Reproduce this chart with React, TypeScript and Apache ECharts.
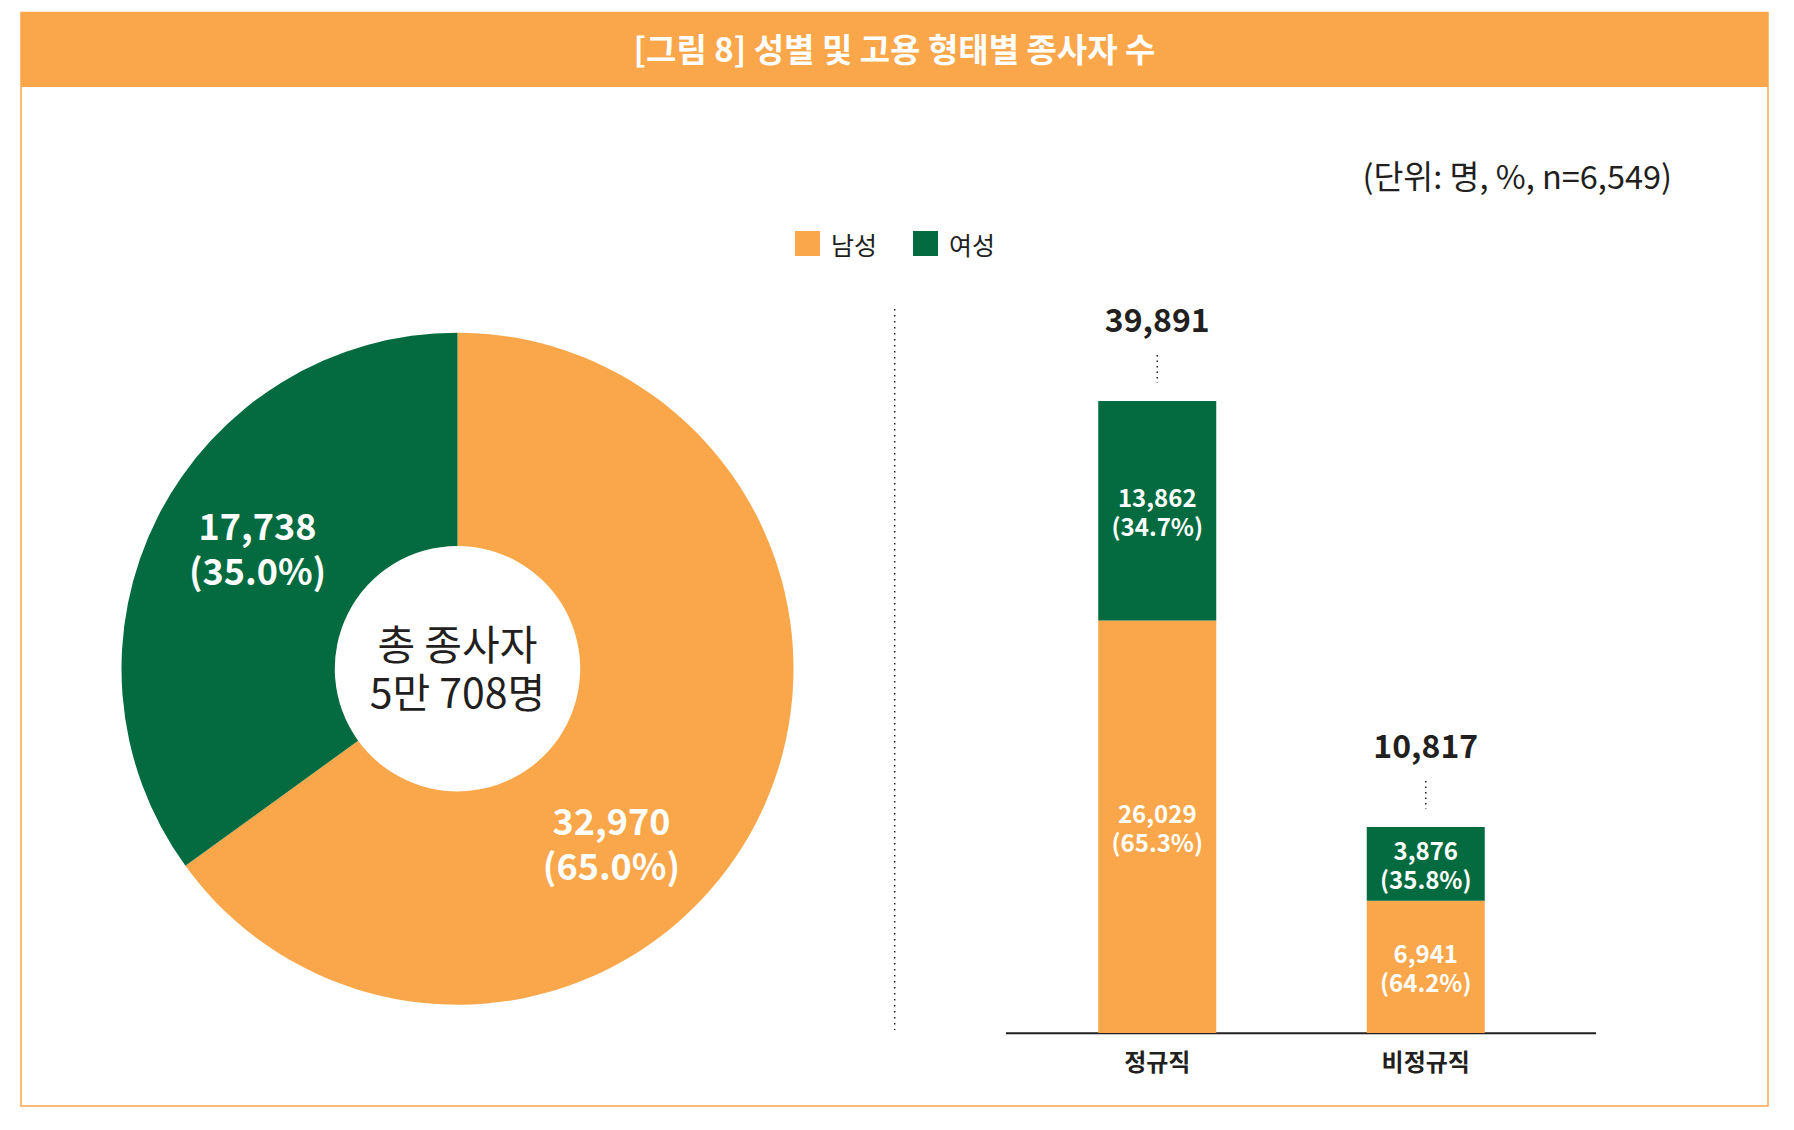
import React, { useEffect, useRef } from 'react';
import * as echarts from 'echarts';

// ---------- data ----------
const TITLE = '[그림 8] 성별 및 고용 형태별 종사자 수';
const UNIT_NOTE = '(단위: 명, %, n=6,549)';
const genderNames = ['남성', '여성'];
const genderTotals = [32970, 17738];
const totalCaption = ['총 종사자', '5만 708명'];
const employmentTypes = ['정규직', '비정규직'];
const maleByType = [26029, 6941];
const femaleByType = [13862, 3876];

// ---------- style / layout ----------
const FONT = '"Noto Sans CJK KR", "Noto Sans", sans-serif';
const ORANGE = '#F9A74A';
const GREEN = '#036B3F';
const DARK = '#231F20';
// the reference draws each bar on its own vertical scale
const BAR_AXIS_MAX = [39891, 33200];
const PIE_LABEL_SHIFT = [
  [-53, 67],
  [7, -17],
];

const fmt = (n: number) => n.toLocaleString('en-US');
const pct = (v: number, t: number) => ((v / t) * 100).toFixed(1);

function buildOption(): any {
  const pieTotal = genderTotals.reduce((a, b) => a + b, 0);
  const colors = [ORANGE, GREEN];

  const barSeries: any[] = [];
  const totalSeries: any[] = [];
  employmentTypes.forEach((_, i) => {
    const parts = [maleByType[i], femaleByType[i]];
    const total = parts[0] + parts[1];
    const only = (v: number) => employmentTypes.map((__, j) => (j === i ? v : '-'));
    parts.forEach((v, g) => {
      barSeries.push({
        type: 'bar',
        name: genderNames[g],
        stack: 's' + i,
        yAxisIndex: i,
        data: only(v),
        barWidth: 118,
        barGap: '-100%',
        silent: true,
        itemStyle: { color: colors[g] },
        label: {
          show: true,
          position: 'inside',
          color: '#fff',
          fontSize: 24,
          lineHeight: 29,
          fontWeight: 'bold',
          fontFamily: FONT,
          formatter: (p: any) => `${fmt(p.value)}\n(${pct(p.value, total)}%)`,
        },
      });
    });
    totalSeries.push({
      type: 'custom',
      yAxisIndex: i,
      silent: true,
      z: 5,
      encode: { x: 0, y: 1 },
      data: [[i, total]],
      renderItem: (params: any, api: any) => {
        const p = api.coord([api.value(0), api.value(1)]);
        return {
          type: 'group',
          children: [
            {
              type: 'line',
              shape: { x1: p[0], y1: p[1] - 46, x2: p[0], y2: p[1] - 18 },
              style: { stroke: DARK, lineWidth: 1.5, lineDash: [1.5, 4] },
            },
            {
              type: 'text',
              x: p[0],
              y: p[1] - 83,
              style: {
                text: fmt(api.value(1)),
                fill: DARK,
                fontSize: 32,
                fontWeight: 'bold',
                fontFamily: FONT,
                textAlign: 'center',
                textVerticalAlign: 'middle',
                align: 'center',
                verticalAlign: 'middle',
              },
            },
          ],
        };
      },
    });
  });

  return {
    animation: false,
    backgroundColor: '#ffffff',
    legend: {
      data: genderNames,
      left: 795,
      top: 231,
      padding: 0,
      itemWidth: 25,
      itemHeight: 25,
      itemGap: 36,
      icon: 'rect',
      selectedMode: false,
      textStyle: { fontSize: 25, color: DARK, fontFamily: FONT, padding: [0, 0, 0, 6] },
    },
    grid: { left: 1023, width: 537, top: 401, height: 632 },
    xAxis: {
      type: 'category',
      data: employmentTypes,
      axisLine: { show: false },
      axisTick: { show: false },
      axisLabel: {
        margin: 15,
        fontSize: 24,
        fontWeight: 'bold',
        color: DARK,
        fontFamily: FONT,
      },
    },
    yAxis: BAR_AXIS_MAX.map((m) => ({
      type: 'value',
      min: 0,
      max: m,
      show: false,
      splitLine: { show: false },
    })),
    graphic: [
      {
        type: 'rect',
        shape: { x: 21, y: 12.5, width: 1747, height: 1093.5 },
        style: { fill: 'transparent', stroke: ORANGE, lineWidth: 1.5 },
        silent: true,
      },
      {
        type: 'rect',
        shape: { x: 21, y: 12.5, width: 1747, height: 74.5 },
        style: { fill: ORANGE },
        silent: true,
      },
      {
        type: 'text',
        x: 894.5,
        y: 48,
        style: {
          text: TITLE,
          fill: '#ffffff',
          fontSize: 33,
          fontWeight: 'bold',
          fontFamily: FONT,
          textAlign: 'center',
          textVerticalAlign: 'middle',
          align: 'center',
          verticalAlign: 'middle',
        },
      },
      {
        type: 'text',
        x: 1672,
        y: 174,
        style: {
          text: UNIT_NOTE,
          fill: DARK,
          fontSize: 32.5,
          fontFamily: FONT,
          textAlign: 'right',
          textVerticalAlign: 'middle',
          align: 'right',
          verticalAlign: 'middle',
        },
      },
      {
        type: 'text',
        x: 457.5,
        y: 666,
        style: {
          text: totalCaption.join('\n'),
          fill: DARK,
          fontSize: 41,
          lineHeight: 48,
          fontFamily: FONT,
          textAlign: 'center',
          textVerticalAlign: 'middle',
          align: 'center',
          verticalAlign: 'middle',
        },
      },
      {
        type: 'line',
        shape: { x1: 894.7, y1: 309, x2: 894.7, y2: 1030 },
        style: { stroke: DARK, lineWidth: 1.5, lineDash: [1.5, 4.5] },
        silent: true,
      },
      {
        type: 'line',
        shape: { x1: 1006, y1: 1033.3, x2: 1596, y2: 1033.3 },
        style: { stroke: DARK, lineWidth: 2 },
        silent: true,
      },
    ],
    series: [
      {
        type: 'pie',
        center: [457.5, 668.7],
        radius: [122.7, 336],
        startAngle: 90,
        clockwise: true,
        silent: true,
        data: genderNames.map((n, i) => ({
          name: n,
          value: genderTotals[i],
          itemStyle: { color: colors[i], borderWidth: 0 },
        })),
        label: {
          show: true,
          position: 'inside',
          color: '#fff',
          fontSize: 36,
          lineHeight: 45,
          fontWeight: 'bold',
          fontFamily: FONT,
          formatter: (p: any) => `${fmt(p.value)}\n(${pct(p.value, pieTotal)}%)`,
        },
        labelLine: { show: false },
        labelLayout: (p: any) => ({
          dx: PIE_LABEL_SHIFT[p.dataIndex][0],
          dy: PIE_LABEL_SHIFT[p.dataIndex][1],
        }),
      },
      ...barSeries,
      ...totalSeries,
    ],
  };
}

export default function App() {
  const ref = useRef<HTMLDivElement>(null);
  useEffect(() => {
    const chart = echarts.init(ref.current!, null, { renderer: 'svg' });
    chart.setOption(buildOption());
    return () => chart.dispose();
  }, []);
  return (
    <div
      ref={ref}
      style={{ position: 'absolute', left: 0, top: 0, width: 1794, height: 1130, background: '#fff' }}
    />
  );
}
